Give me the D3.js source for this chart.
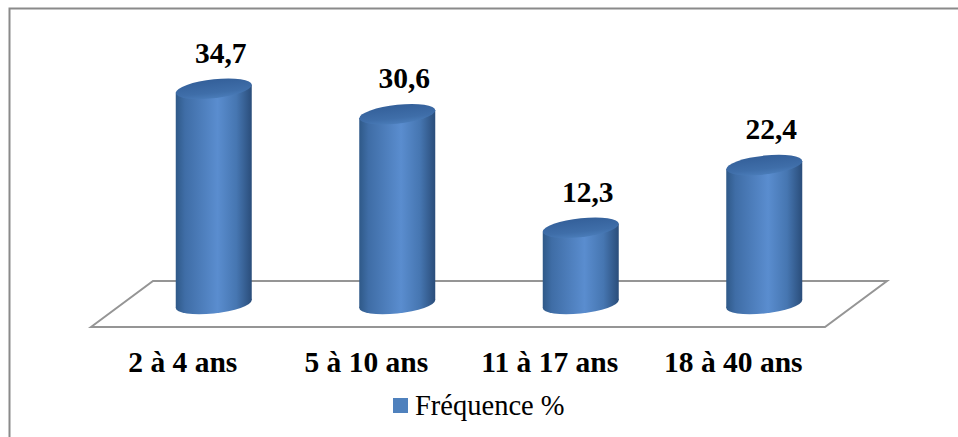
<!DOCTYPE html>
<html>
<head>
<meta charset="utf-8">
<script src="https://cdn.jsdelivr.net/npm/d3@7"></script>
<style>
  html, body { margin: 0; padding: 0; background: #fff; }
  svg { display: block; }
  svg text { font-family: "Liberation Serif", "Times New Roman", Times, serif; }
</style>
</head>
<body>
<svg id="chart" width="958" height="437"></svg>
<script>
// Age groups and their share (%)
const categories = ["2 à 4 ans", "5 à 10 ans", "11 à 17 ans", "18 à 40 ans"];
const values = [34.7, 30.6, 12.3, 22.4];
const valueLabels = ["34,7", "30,6", "12,3", "22,4"];
const seriesName = "Fréquence %";

const svg = d3.select("#chart");
const W = 958, H = 437;

// Floor geometry: front edge and back edge offset by the depth
const floorFront = { x0: 91, x1: 825, y: 327 };
const depth = { dx: 62, dy: -46 };

// Categories sit on the front edge; cylinders sit at mid-depth
const xFront = d3.scaleBand().domain(categories).range([floorFront.x0, floorFront.x1]);
const baseY = floorFront.y + depth.dy / 2;
const y = d3.scaleLinear().domain([0, 35]).range([baseY, baseY - 35 * 6.2]);

const barW = 76, ry = 9.5, tilt = -6;

const defs = svg.append("defs");
const sideGrad = defs.append("linearGradient").attr("id", "cylSide").attr("x1", 0).attr("x2", 1).attr("y1", 0).attr("y2", 0);
[[0, "#2f5988"], [0.12, "#3f6da6"], [0.55, "#5a8dcf"], [0.8, "#4676b1"], [1, "#2a4d7a"]]
  .forEach(([o, c]) => sideGrad.append("stop").attr("offset", o).attr("stop-color", c));
const capGrad = defs.append("linearGradient").attr("id", "cylTop").attr("x1", 0).attr("x2", 0).attr("y1", 0).attr("y2", 1);
[[0, "#34609a"], [0.7, "#3f6ea9"], [1, "#4a7cb9"]]
  .forEach(([o, c]) => capGrad.append("stop").attr("offset", o).attr("stop-color", c));

// Frame: top and left border lines
svg.append("path")
  .attr("d", `M9.5,${H} V8.5 H${W}`)
  .attr("fill", "none").attr("stroke", "#8a8a8a").attr("stroke-width", 2);

// Floor parallelogram
svg.append("path")
  .attr("d", `M${floorFront.x0},${floorFront.y} L${floorFront.x0 + depth.dx},${floorFront.y + depth.dy} L${floorFront.x1 + depth.dx},${floorFront.y + depth.dy} L${floorFront.x1},${floorFront.y} Z`)
  .attr("fill", "#fff").attr("stroke", "#959595").attr("stroke-width", 2);

// Cylinders
const bars = svg.selectAll("g.bar").data(categories).join("g").attr("class", "bar")
  .attr("transform", d => {
    const cx = xFront(d) + xFront.bandwidth() / 2 + depth.dx / 2;
    const t = Math.tan(tilt * Math.PI / 180);
    // skew around the cylinder axis so both ends tilt slightly
    return `translate(${cx},0) matrix(1,${t},0,1,0,0)`;
  });

bars.append("ellipse")
  .attr("cx", 0).attr("cy", baseY).attr("rx", barW / 2).attr("ry", ry)
  .attr("fill", "url(#cylSide)");
bars.append("rect")
  .attr("x", -barW / 2).attr("width", barW)
  .attr("y", (d, i) => y(values[i]))
  .attr("height", (d, i) => baseY - y(values[i]))
  .attr("fill", "url(#cylSide)");
bars.append("ellipse")
  .attr("cx", 0).attr("cy", (d, i) => y(values[i])).attr("rx", barW / 2).attr("ry", ry)
  .attr("fill", "url(#cylTop)");

// Value labels above each cylinder
svg.selectAll("text.val").data(categories).join("text").attr("class", "val")
  .attr("x", d => xFront(d) + xFront.bandwidth() / 2 + depth.dx / 2 + 7)
  .attr("y", (d, i) => y(values[i]) - 26)
  .attr("text-anchor", "middle")
  .attr("font-weight", "bold").attr("font-size", 29.5)
  .text((d, i) => valueLabels[i]);

// Category axis along the front edge of the floor
const axis = svg.append("g").attr("transform", `translate(0,${floorFront.y})`)
  .call(d3.axisBottom(xFront).tickSize(0).tickPadding(45));
axis.attr("font-family", null);
axis.select(".domain").remove();
axis.selectAll("text")
  .attr("font-weight", "bold").attr("font-size", 29.5).attr("fill", "#000")
  .attr("dy", 0);

// Legend
const lg = svg.append("g").attr("transform", "translate(393,398)");
lg.append("rect").attr("width", 15).attr("height", 15).attr("fill", "#4f81bd");
lg.append("text").attr("x", 22).attr("y", 17)
  .attr("font-size", 28.5).attr("fill", "#000")
  .text(seriesName);
</script>
</body>
</html>
